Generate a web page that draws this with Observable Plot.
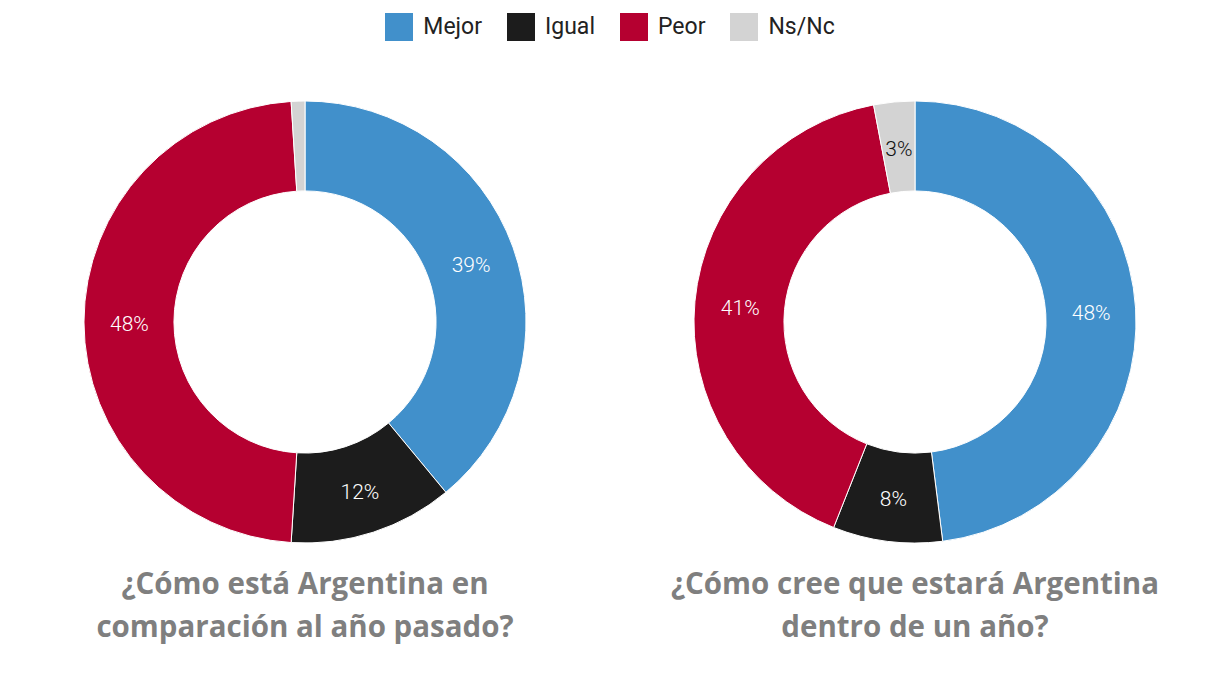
<!DOCTYPE html>
<html><head><meta charset="utf-8">
<script src="https://cdn.jsdelivr.net/npm/d3@7"></script>
<script src="https://cdn.jsdelivr.net/npm/@observablehq/plot@0.6"></script>
<style>
body{margin:0;background:#fff;font-family:Roboto,"Noto Sans",sans-serif;}
#wrap{width:1220px;height:678px;position:relative;}
#legend{position:absolute;top:10px;left:0;width:1220px;display:flex;justify-content:center;}
#legend div > span{margin-right:25px !important;}
#legend div > span:last-child{margin-right:0 !important;}
#legend svg{margin-right:10px !important;}
#charts{position:absolute;top:92px;left:0;display:flex;}
.panel{width:610px;display:flex;flex-direction:column;align-items:center;}
.title{margin-top:9px;font-family:"Open Sans",sans-serif;font-weight:700;font-size:29.5px;line-height:43px;color:#7f7f7f;text-align:center;white-space:nowrap;}
</style></head>
<body><div id="wrap"><div id="legend"></div><div id="charts"></div></div>
<script>
const categories = ["Mejor", "Igual", "Peor", "Ns/Nc"];
const colors = ["#4190cb", "#1c1c1c", "#b50030", "#d3d3d3"];
const titleLines = [["¿Cómo está Argentina en", "comparación al año pasado?"], ["¿Cómo cree que estará Argentina", "dentro de un año?"]];
const valuesPasado = [39, 12, 48, 1];
const valuesFuturo = [48, 8, 41, 3];
const showLabel = [[true, true, true, false], [true, true, true, true]];

const INNER = 0.593;

document.getElementById("legend").appendChild(Plot.legend({
  color: {type: "ordinal", domain: categories, range: colors},
  swatchSize: 28,
  style: {fontSize: "23px", fontFamily: "Roboto, sans-serif", color: "#222"}
}));

const charts = document.getElementById("charts");
[valuesPasado, valuesFuturo].forEach((vals, qi) => {
  const data = categories.map((c, i) => ({cat: c, value: vals[i], color: colors[i], show: showLabel[qi][i]}));
  const arcs = d3.pie().sort(null).value(d => d.value).startAngle(0).endAngle(2 * Math.PI)(data);
  const rMid = (1 + INNER) / 2;
  const labels = arcs.filter(a => a.data.show).map(a => {
    const m = (a.startAngle + a.endAngle) / 2;
    return {x: rMid * Math.sin(m), y: rMid * Math.cos(m), text: a.data.value + "%", fill: a.data.cat === "Ns/Nc" ? "#111" : "#fff"};
  });
  const donut = (index, scales) => {
    const sx = scales.x, sy = scales.y;
    const cx = sx(0), cy = sy(0), R = sx(1) - sx(0);
    const g = d3.create("svg:g").attr("transform", `translate(${cx},${cy})`);
    const arcGen = d3.arc().innerRadius(R * INNER).outerRadius(R);
    g.selectAll("path").data(arcs).join("path")
      .attr("d", arcGen).attr("fill", d => d.data.color)
      .attr("stroke", "#fff").attr("stroke-width", 1);
    return g.node();
  };
  const plot = Plot.plot({
    width: 610, height: 460,
    margin: 0,
    x: {domain: [-1.38, 1.38], axis: null},
    y: {domain: [-1.04, 1.04], axis: null},
    marks: [
      donut,
      Plot.text(labels, {x: "x", y: "y", text: "text", fill: "fill", dy: 2, fontSize: 21, fontWeight: 300, fontFamily: "Roboto, sans-serif"})
    ]
  });
  const panel = document.createElement("div");
  panel.className = "panel";
  panel.appendChild(plot);
  const t = document.createElement("div");
  t.className = "title";
  t.innerHTML = titleLines[qi].join("<br>");
  panel.appendChild(t);
  charts.appendChild(panel);
});
</script></body></html>
